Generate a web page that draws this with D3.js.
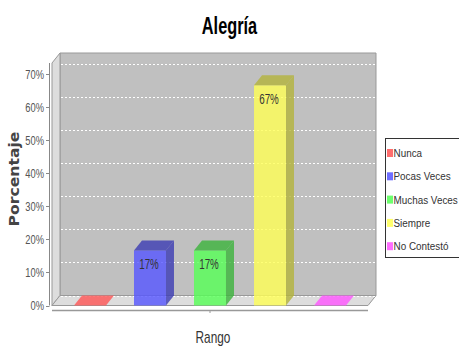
<!DOCTYPE html>
<html><head><meta charset="utf-8">
<script src="https://cdn.jsdelivr.net/npm/d3@7"></script>
<style>body{margin:0;background:#fff}svg{display:block}</style>
</head><body>
<script>
const title = "Alegría";
const yLabel = "Porcentaje";
const xLabel = "Rango";
const series = ["Nunca", "Pocas Veces", "Muchas Veces", "Siempre", "No Contestó"];
const values = [0, 16.67, 16.67, 66.67, 0];
const barLabels = ["", "17%", "17%", "67%", ""];
const colors = ["#FF5555", "#5555FF", "#55FF55", "#FFFF55", "#FF55FF"];
const yTicks = [0, 10, 20, 30, 40, 50, 60, 70];
const yMax = 73.4;

const W = 459, H = 347;
const svg = d3.select("body").append("svg").attr("width", W).attr("height", H);
const X0 = 52, X1 = 368, Y0 = 305.5, YT = 63, DX = 8, DY = 10;
const font = "'Liberation Sans', Arial, sans-serif";

const y = d3.scaleLinear().domain([0, yMax]).range([Y0, YT]);
const x = d3.scaleBand().domain(series).range([60, 360]).paddingInner(0.467).paddingOuter(0.233);

// title
svg.append("text").attr("transform", `translate(${W/2},34) scale(0.68,1)`)
  .attr("text-anchor", "middle").attr("font-family", font).attr("font-weight", "bold")
  .attr("font-size", 24).attr("fill", "#000").text(title);

// walls
const wallStroke = "#999";
svg.append("polygon").attr("points", [[X0+DX, YT-DY],[X1+DX, YT-DY],[X1+DX, Y0-DY],[X0+DX, Y0-DY]].join(" "))
  .attr("fill", "#C0C0C0").attr("stroke", wallStroke);
svg.append("polygon").attr("points", [[X0, YT],[X0+DX, YT-DY],[X0+DX, Y0-DY],[X0, Y0]].join(" "))
  .attr("fill", "#DDDDDD").attr("stroke", wallStroke);
svg.append("polygon").attr("points", [[X0, Y0],[X0+DX, Y0-DY],[X1+DX, Y0-DY],[X1, Y0]].join(" "))
  .attr("fill", "#DDDDDD").attr("stroke", wallStroke);

// gridlines on back wall
svg.append("g").selectAll("line").data(yTicks).join("line")
  .attr("x1", X0+DX+1).attr("x2", X1+DX-1)
  .attr("y1", d => Math.round(y(d) - DY) + 0.5).attr("y2", d => Math.round(y(d) - DY) + 0.5)
  .attr("stroke", "#fff").attr("stroke-width", 1).attr("stroke-dasharray", "2,2");

// bars
const bars = svg.append("g");
series.forEach((s, i) => {
  const bx = x(s), bw = x.bandwidth(), top = y(values[i]);
  const c = d3.color(colors[i]);
  const dark = c.darker(1).formatHex();
  const g = bars.append("g").attr("fill-opacity", 0.8);
  if (values[i] > 0) {
    g.append("rect").attr("x", bx).attr("y", top).attr("width", bw).attr("height", Y0 - top).attr("fill", colors[i]);
    g.append("polygon").attr("points", [[bx+bw, top],[bx+bw+DX, top-DY],[bx+bw+DX, Y0-DY],[bx+bw, Y0]].join(" ")).attr("fill", dark);
    g.append("polygon").attr("points", [[bx, top],[bx+DX, top-DY],[bx+bw+DX, top-DY],[bx+bw, top]].join(" ")).attr("fill", dark);
  } else {
    g.append("polygon").attr("points", [[bx, Y0],[bx+DX, Y0-DY],[bx+bw+DX, Y0-DY],[bx+bw, Y0]].join(" ")).attr("fill", colors[i]);
  }
  if (barLabels[i]) {
    svg.append("text").attr("transform", `translate(${bx + bw/2 - 1},${top + 18.5}) scale(0.7,1)`)
      .attr("text-anchor", "middle").attr("font-family", font).attr("font-size", 14)
      .attr("fill", "#333").text(barLabels[i]);
  }
});

// y axis
const ya = svg.append("g");
ya.append("line").attr("x1", 49.5).attr("x2", 49.5).attr("y1", YT).attr("y2", Y0).attr("stroke", "#888");
ya.selectAll("line.t").data(yTicks).join("line").attr("class", "t")
  .attr("x1", 46).attr("x2", 49.5).attr("y1", d => Math.round(y(d)) + 0.5).attr("y2", d => Math.round(y(d)) + 0.5)
  .attr("stroke", "#888");
ya.selectAll("text").data(yTicks).join("text")
  .attr("transform", d => `translate(44,${y(d) + 4.5}) scale(0.72,1)`)
  .attr("text-anchor", "end").attr("font-family", font).attr("font-size", 13)
  .attr("fill", "#555").text(d => d + "%");
svg.append("text").attr("transform", `translate(18.5,179) rotate(-90)`)
  .attr("text-anchor", "middle").attr("font-family", "'DejaVu Sans', sans-serif").attr("font-weight", "bold")
  .attr("font-size", 13.5).attr("fill", "#444")
  .attr("textLength", 95).attr("lengthAdjust", "spacingAndGlyphs").text(yLabel);

// x axis
svg.append("line").attr("x1", X0).attr("x2", X1).attr("y1", 310.5).attr("y2", 310.5).attr("stroke", "#999").attr("stroke-width", 1.5);
svg.append("line").attr("x1", (X0+X1)/2).attr("x2", (X0+X1)/2).attr("y1", 310).attr("y2", 313).attr("stroke", "#999");
svg.append("text").attr("transform", `translate(213,343) scale(0.74,1)`)
  .attr("text-anchor", "middle").attr("font-family", font).attr("font-size", 16)
  .attr("fill", "#333").text(xLabel);

// legend
const lg = svg.append("g");
lg.append("rect").attr("x", 385.5).attr("y", 138.5).attr("width", 80).attr("height", 119)
  .attr("fill", "#fff").attr("stroke", "#333");
series.forEach((s, i) => {
  const cy = 153 + i * 23.3;
  lg.append("rect").attr("x", 387).attr("y", cy - 4).attr("width", 6).attr("height", 8)
    .attr("fill", colors[i]).attr("fill-opacity", 0.85);
  lg.append("text").attr("transform", `translate(393.5,${cy + 4}) scale(0.86,1)`)
    .attr("font-family", font).attr("font-size", 11.5).attr("fill", "#333").text(s);
});
</script>
</body></html>
